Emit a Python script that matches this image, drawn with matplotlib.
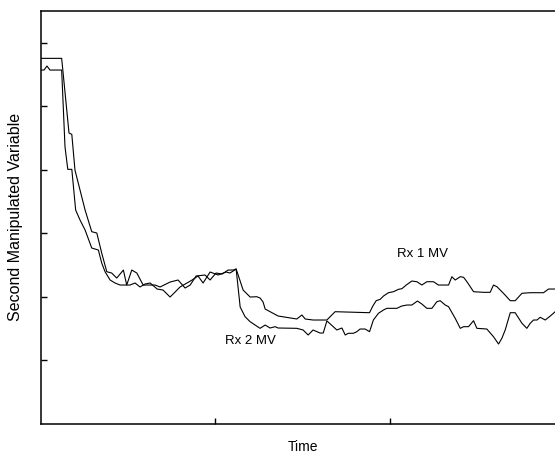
import matplotlib
matplotlib.use("Agg")
import matplotlib.pyplot as plt

plt.rcParams['font.family'] = ['Liberation Sans', 'DejaVu Sans']

# time axis runs 0..300, ticks at 100 and 200
# value axis runs 0..650, ticks every 100
rx1_t = [0, 12.1, 16.3, 17.9, 19.7, 22.6, 25.5, 29.3, 32.2, 35.0, 37.9, 40.7, 43.6,
         47.4, 49.3, 52.2, 55.1, 58.7, 65.5, 68.4, 74.1, 78.7, 82.7, 85.6, 89.0, 94.1,
         97.0, 100.4, 103.9, 107.3, 110.2, 111.9, 115.9, 119.9, 123.7, 125.6, 127.3,
         128.5, 135.9, 146.6, 149.5, 151.4, 155.9, 163.8, 168.5, 188.2, 190.1, 192.0,
         194.3, 196.2, 199.0, 201.9, 204.8, 206.7, 209.2, 212.4, 215.3, 218.1, 221.0,
         224.8, 227.6, 233.4, 235.3, 237.2, 240.1, 242.0, 243.9, 247.7, 253.4, 257.2,
         259.1, 261.1, 264.8, 268.7, 271.5, 275.4, 280.1, 287.7, 290.6, 300.0]
rx1_v = [575.4, 575.4, 457.8, 455.7, 399.5, 368.0, 336.5, 302.4, 300.3, 268.8, 239.4,
         237.3, 229.4, 242.0, 218.4, 242.0, 237.3, 218.4, 218.4, 215.3, 223.1, 226.3,
         213.7, 218.4, 232.6, 234.2, 226.3, 237.3, 235.7, 242.0, 242.0, 243.6, 210.5,
         199.5, 200.0, 197.9, 191.7, 180.6, 169.6, 164.9, 171.2, 164.9, 163.3, 163.3,
         176.4, 174.8, 185.4, 193.7, 195.9, 201.1, 206.3, 207.9, 211.7, 212.6, 218.4,
         224.7, 223.6, 218.4, 223.6, 223.6, 218.4, 218.4, 231.5, 226.3, 231.5, 230.6,
         223.6, 207.9, 206.9, 206.9, 218.4, 215.7, 205.4, 193.7, 193.7, 205.4, 206.3,
         206.3, 212.1, 212.1]

rx2_t = [0, 2.0, 3.7, 5.4, 12.1, 14.0, 15.6, 17.9, 20.1, 22.6, 25.5, 29.3, 33.1, 35.0,
         36.9, 39.8, 42.6, 45.5, 51.2, 54.1, 56.9, 59.8, 62.7, 66.7, 70.1, 74.1, 77.0,
         79.8, 83.8, 86.7, 90.1, 93.0, 97.0, 101.6, 106.2, 108.4, 111.9, 114.2, 117.0,
         119.9, 125.6, 128.5, 131.3, 134.2, 135.9, 146.6, 150.2, 153.1, 155.9, 159.9,
         161.7, 163.8, 164.5, 169.5, 172.4, 174.3, 176.1, 179.0, 180.9, 182.8, 185.7,
         188.2, 190.4, 193.3, 196.2, 198.1, 203.8, 206.7, 209.6, 212.4, 215.6, 218.1,
         221.0, 223.9, 226.7, 228.6, 231.5, 233.4, 237.2, 240.1, 242.0, 244.8, 247.7,
         249.6, 255.3, 259.1, 262.0, 263.9, 265.8, 268.7, 271.5, 275.4, 278.2, 280.1,
         282.0, 284.0, 285.8, 288.7, 291.6, 294.4, 300.0]
rx2_v = [557.0, 557.0, 563.3, 557.0, 557.0, 436.2, 400.6, 400.6, 336.5, 320.8, 305.0,
         276.7, 273.5, 253.1, 239.4, 226.3, 221.6, 218.4, 218.4, 221.6, 215.3, 220.0,
         221.6, 212.1, 210.5, 199.5, 207.4, 215.3, 221.6, 226.3, 232.6, 221.6, 238.9,
         234.2, 238.9, 237.3, 243.6, 183.8, 168.5, 160.6, 150.2, 155.4, 150.7, 152.8,
         150.7, 150.2, 147.6, 139.7, 147.6, 142.8, 142.8, 161.7, 160.2, 147.6, 150.7,
         139.7, 142.4, 142.4, 144.9, 149.1, 149.1, 144.9, 163.3, 173.9, 179.1, 181.7,
         181.7, 185.4, 186.9, 186.9, 193.2, 188.5, 181.7, 181.7, 192.1, 193.7, 186.9,
         184.3, 166.0, 150.2, 152.8, 152.8, 162.2, 150.2, 149.1, 137.0, 125.5, 134.5,
         147.6, 174.8, 174.8, 158.1, 150.2, 158.1, 163.3, 163.3, 167.6, 163.3, 169.6,
         176.4, 190.0]

fig = plt.figure(figsize=(5.55, 4.58), dpi=100)
ax = fig.add_axes([0.0730, 0.0749, 0.9450, 0.9011])

ax.plot(rx1_t, rx1_v, color='black', lw=0.8)
ax.plot(rx2_t, rx2_v, color='black', lw=0.8)

ax.set_xlim(0, 300)
ax.set_ylim(0, 650)
ax.set_xticks([100, 200])
ax.set_yticks([100, 200, 300, 400, 500, 600])
ax.tick_params(direction='in', length=4, width=1, labelbottom=False, labelleft=False)
for s in ax.spines.values():
    s.set_linewidth(1.1)

ax.text(218.6, 267, 'Rx 1 MV', ha='center', va='center', fontsize=9.5)
ax.text(119.9, 130, 'Rx 2 MV', ha='center', va='center', fontsize=9.5)

fig.text(302.6 / 555, 1 - 447 / 458, 'Time', ha='center', va='center', fontsize=10)
fig.text(16 / 555, 1 - 217.4 / 458, 'Second Manipulated Variable', ha='center',
         va='center', rotation=90, fontsize=11.5)

fig.savefig('out.png', dpi=100)
